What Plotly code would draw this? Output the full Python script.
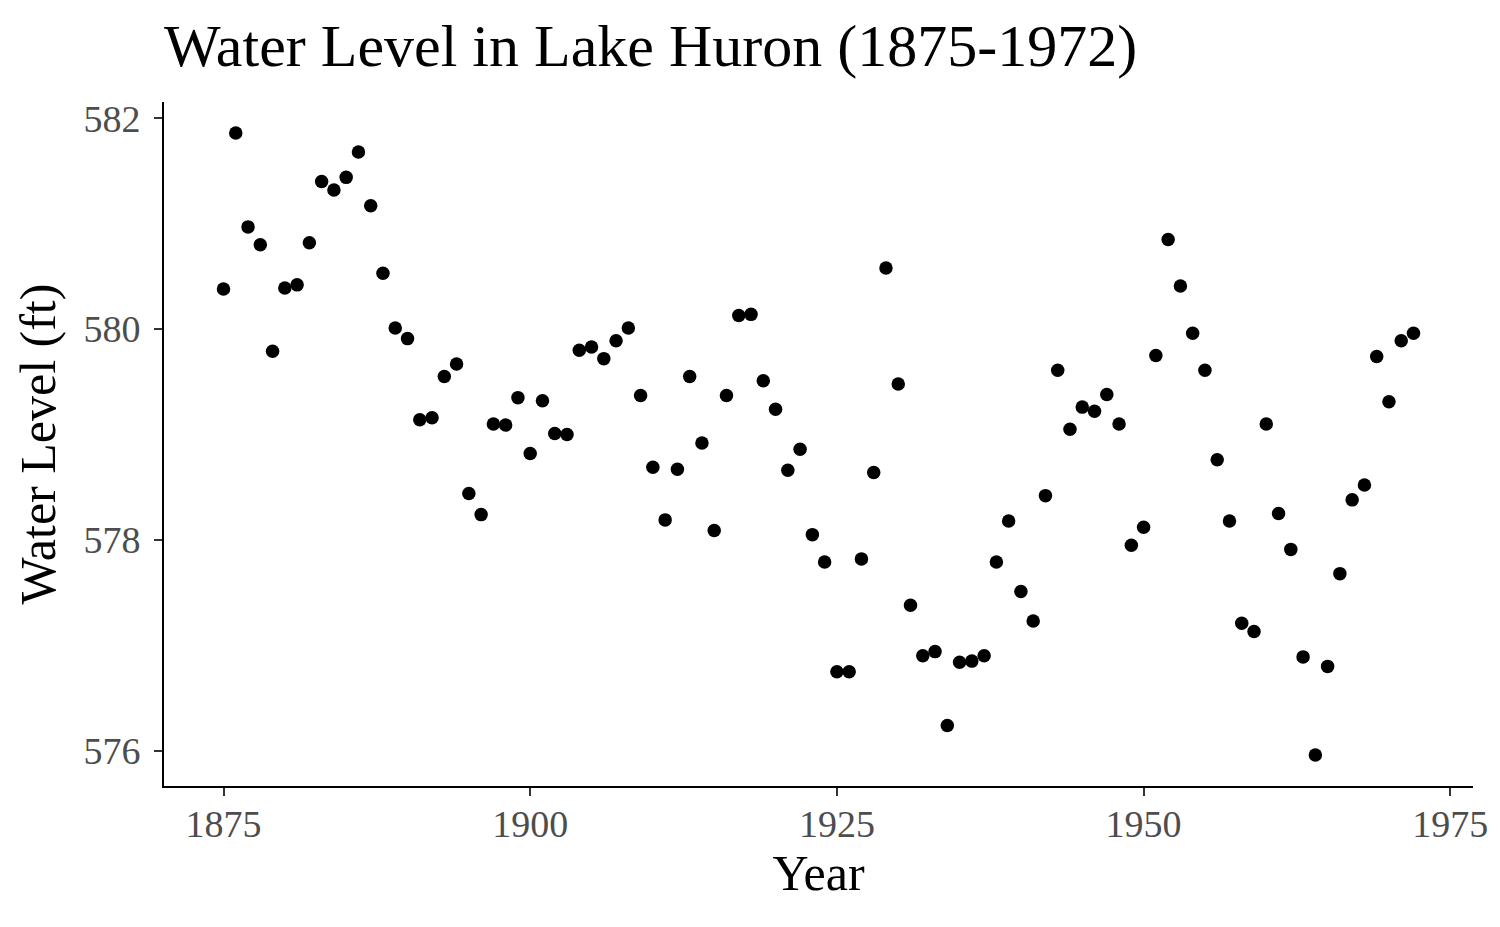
import plotly.graph_objects as go

years = list(range(1875, 1973))
levels = [580.38, 581.86, 580.97, 580.80, 579.79, 580.39, 580.42, 580.82, 581.40, 581.32,
          581.44, 581.68, 581.17, 580.53, 580.01, 579.91, 579.14, 579.16, 579.55, 579.67,
          578.44, 578.24, 579.10, 579.09, 579.35, 578.82, 579.32, 579.01, 579.00, 579.80,
          579.83, 579.72, 579.89, 580.01, 579.37, 578.69, 578.19, 578.67, 579.55, 578.92,
          578.09, 579.37, 580.13, 580.14, 579.51, 579.24, 578.66, 578.86, 578.05, 577.79,
          576.75, 576.75, 577.82, 578.64, 580.58, 579.48, 577.38, 576.90, 576.94, 576.24,
          576.84, 576.85, 576.90, 577.79, 578.18, 577.51, 577.23, 578.42, 579.61, 579.05,
          579.26, 579.22, 579.38, 579.10, 577.95, 578.12, 579.75, 580.85, 580.41, 579.96,
          579.61, 578.76, 578.18, 577.21, 577.13, 579.10, 578.25, 577.91, 576.89, 575.96,
          576.80, 577.68, 578.38, 578.52, 579.74, 579.31, 579.89, 579.96]
x_ticks = [1875, 1900, 1925, 1950, 1975]
y_ticks = [576, 578, 580, 582]

FONT = "Liberation Serif"

xr = (min(years), max(years))
yr = (min(levels), max(levels))
xpad = (xr[1] - xr[0]) * 0.05
ypad = (yr[1] - yr[0]) * 0.05

fig = go.Figure(go.Scatter(
    x=years, y=levels, mode="markers",
    marker=dict(color="black", size=13.5, line=dict(width=0)),
    showlegend=False,
))

axis_common = dict(
    showgrid=False, zeroline=False, showline=True, linecolor="black", linewidth=2,
    ticks="outside", ticklen=8, tickwidth=1.5, tickcolor="#333333",
    tickfont=dict(family=FONT, size=38, color="#4D4D4D"),
)

fig.update_layout(
    width=1500, height=927,
    margin=dict(l=164, r=24, t=102, b=141),
    paper_bgcolor="white", plot_bgcolor="white",
    title=dict(text="Water Level in Lake Huron (1875-1972)",
               font=dict(family=FONT, size=60, color="black"),
               x=0, xref="paper", xanchor="left",
               y=1 - 45 / 927, yref="container", yanchor="middle"),
    xaxis=dict(range=[xr[0] - xpad, xr[1] + xpad], tickvals=x_ticks, ticklabelstandoff=-5,
               title=dict(text="Year", font=dict(family=FONT, size=50, color="black"), standoff=10),
               **axis_common),
    yaxis=dict(range=[yr[0] - ypad, yr[1] + ypad], tickvals=y_ticks, ticklabelstandoff=6,
               title=dict(text="Water Level (ft)", font=dict(family=FONT, size=50, color="black"), standoff=12),
               **axis_common),
)

fig.write_html("out.html")
